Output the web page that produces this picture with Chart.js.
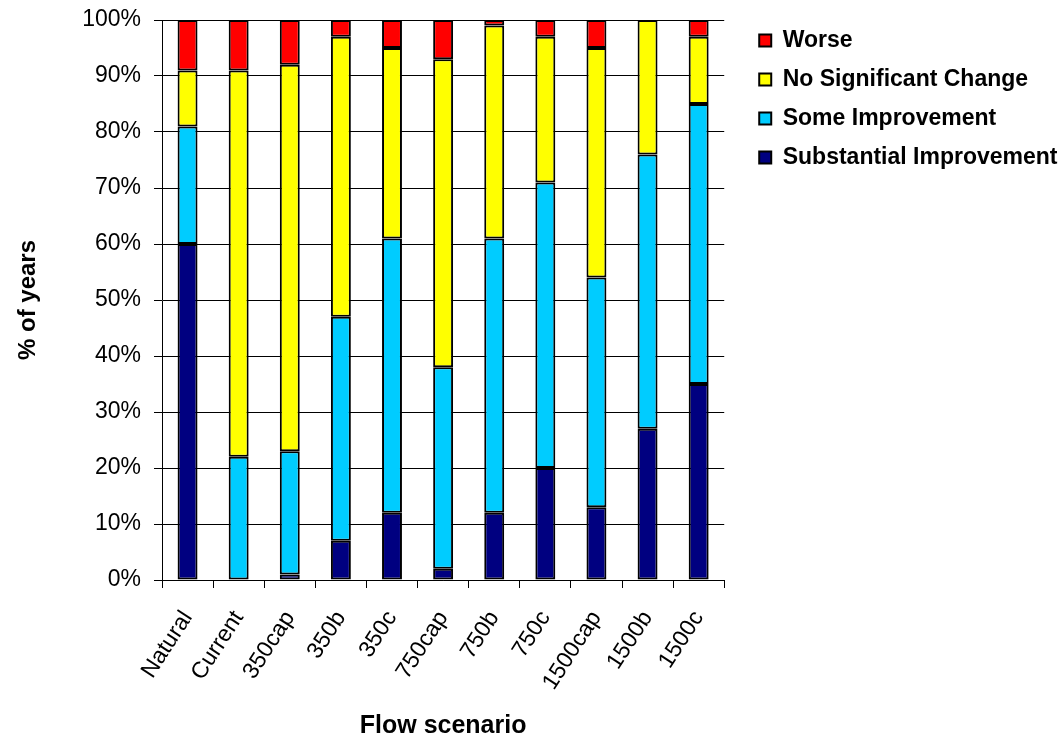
<!DOCTYPE html>
<html>
<head>
<meta charset="utf-8">
<script src="https://cdn.jsdelivr.net/npm/chart.js@4"></script>
<style>
  html, body { margin: 0; padding: 0; background: #ffffff; }
  #wrap { width: 1062px; height: 740px; }
</style>
</head>
<body>
<div id="wrap"><canvas id="c" width="1062" height="740"></canvas></div>
<script>
const categories = ["Natural", "Current", "350cap", "350b", "350c", "750cap", "750b", "750c", "1500cap", "1500b", "1500c"];
const substantialImprovement = [60, 0, 1, 7, 12, 2, 12, 20, 13, 27, 35];
const someImprovement        = [21, 22, 22, 40, 49, 36, 49, 51, 41, 49, 50];
const noSignificantChange    = [10, 69, 69, 50, 34, 55, 38, 26, 41, 24, 12];
const worse                  = [9, 9, 8, 3, 5, 7, 1, 3, 5, 0, 3];
const yTickValues = [0, 10, 20, 30, 40, 50, 60, 70, 80, 90, 100];

Chart.defaults.font.family = "'Liberation Sans', Arial, sans-serif";
Chart.defaults.color = "#000000";

const barStyle = { borderColor: "#000000", borderWidth: 2, borderSkipped: false, barPercentage: 0.39, categoryPercentage: 1.0 };

new Chart(document.getElementById("c"), {
  type: "bar",
  data: {
    labels: categories,
    datasets: [
      Object.assign({ label: "Substantial Improvement", data: substantialImprovement, backgroundColor: "#000080" }, barStyle),
      Object.assign({ label: "Some Improvement", data: someImprovement, backgroundColor: "#00CCFF" }, barStyle),
      Object.assign({ label: "No Significant Change", data: noSignificantChange, backgroundColor: "#FFFF00" }, barStyle),
      Object.assign({ label: "Worse", data: worse, backgroundColor: "#FF0000" }, barStyle)
    ]
  },
  options: {
    responsive: false,
    animation: false,
    devicePixelRatio: 1,
    layout: { padding: { top: 13, left: 0, right: -5.5, bottom: 0 } },
    plugins: {
      tooltip: { enabled: false },
      legend: {
        position: "right",
        align: "start",
        reverse: true,
        maxWidth: 400,
        labels: {
          boxWidth: 12,
          boxHeight: 12,
          padding: 16,
          color: "#000000",
          font: { size: 23, weight: "bold" }
        }
      }
    },
    scales: {
      x: {
        stacked: true,
        offset: true,
        grid: { display: true, offset: true, drawOnChartArea: false, drawTicks: true, tickLength: 8, color: "#000000", lineWidth: 1 },
        border: { display: true, color: "#000000", width: 1 },
        ticks: { minRotation: 57, maxRotation: 57, autoSkip: false, padding: 18, font: { size: 23 }, color: "#000000" },
        title: { display: true, text: "Flow scenario", font: { size: 25, weight: "bold", lineHeight: 1 }, padding: { top: 0, bottom: 1 }, color: "#000000" },
        afterFit: (s) => { s.height = 160; }
      },
      y: {
        stacked: true,
        min: 0,
        max: 100,
        afterBuildTicks: (s) => { s.ticks = yTickValues.map(v => ({ value: v })); },
        grid: { display: true, drawOnChartArea: true, drawTicks: true, tickLength: 8, color: "#000000", lineWidth: 1 },
        border: { display: true, color: "#000000", width: 1 },
        ticks: { padding: 13, font: { size: 23 }, color: "#000000", callback: (v) => v + "%" },
        title: { display: true, text: "% of years", font: { size: 24, weight: "bold", lineHeight: 1.2 }, padding: { top: 14, bottom: 0 }, color: "#000000" },
        afterFit: (s) => { s.width = 162; s.paddingTop = 20; }
      },
      spacer: {
        position: "right",
        display: true,
        grid: { display: false, drawTicks: false },
        border: { display: false },
        ticks: { display: false },
        afterFit: (s) => { s.width = 19; }
      }
    }
  }
});
</script>
</body>
</html>
